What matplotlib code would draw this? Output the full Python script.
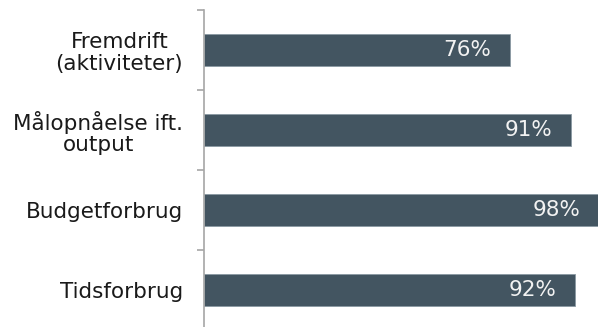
import matplotlib
matplotlib.use("Agg")
import matplotlib.pyplot as plt

categories = ["Fremdrift\n(aktiviteter)", "Målopnåelse ift.\noutput", "Budgetforbrug", "Tidsforbrug"]
values = [76, 91, 98, 92]
value_labels = ["76%", "91%", "98%", "92%"]

plt.rcParams['font.family'] = ['DejaVu Sans']

W, H = 598, 327
fig = plt.figure(figsize=(W / 100, H / 100), dpi=100)
left_px, right_px, top_px, bottom_px = 204, 607, 10, 330
ax = fig.add_axes([left_px / W, (H - bottom_px) / H, (right_px - left_px) / W, (bottom_px - top_px) / H])

pos = list(range(len(categories)))
bar_color = "#435561"
ax.barh(pos, values, height=0.4, color=bar_color, edgecolor="#8a99a3", linewidth=0.6, clip_on=True)
ax.set_xlim(0, 100)
ax.set_ylim(3.5, -0.5)

for p, v, lab in zip(pos, values, value_labels):
    ax.annotate(lab, xy=(v, p), xytext=(-13.5, 0), textcoords="offset points",
                ha="right", va="center", color="#f2f2f2", fontsize=15.5)

for s in ["top", "right", "bottom"]:
    ax.spines[s].set_visible(False)
ax.spines["left"].set_color("#a6a6a6")
ax.spines["left"].set_linewidth(1.2)
ax.set_xticks([])
ax.set_yticks(pos)
ax.set_yticklabels(categories, fontsize=15.5, color="#1a1a1a")
ax.tick_params(axis="y", which="major", length=0, pad=15)
ax.set_yticks([-0.5, 0.5, 1.5, 2.5, 3.5], minor=True)
ax.tick_params(axis="y", which="minor", length=5, width=1.2, color="#a6a6a6")
for t in ax.get_yticklabels():
    t.set_multialignment("center")
    t.set_linespacing(1.1)

fig.savefig("out.png", dpi=100)
